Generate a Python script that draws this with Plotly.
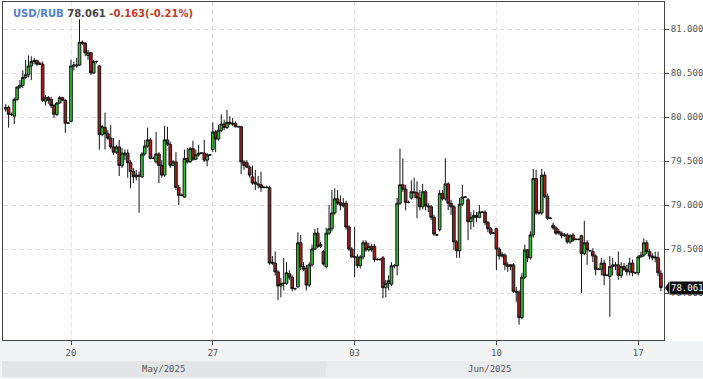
import plotly.graph_objects as go

# ---- data (USD/RUB, 10 candles per trading day) ----
opens = [80.09,80.11,80.03,80.01,80.20,80.34,80.36,80.45,80.48,80.58,80.63,80.64,80.61,80.60,80.18,80.22,80.20,80.13,80.03,80.16,
         80.22,80.19,79.93,79.95,80.58,80.58,80.59,80.85,80.84,80.70,80.73,80.50,80.63,80.58,79.80,79.88,79.81,79.76,79.66,79.60,
         79.66,79.45,79.59,79.59,79.48,79.38,79.32,79.34,79.32,79.58,79.67,79.74,79.53,79.49,79.58,79.45,79.34,79.74,79.69,79.45,
         79.49,79.20,79.11,79.09,79.53,79.49,79.64,79.52,79.57,79.59,79.59,79.51,79.57,79.63,79.83,79.75,79.85,79.92,79.88,79.94,
         79.93,79.93,79.89,79.89,79.49,79.48,79.43,79.32,79.26,79.24,79.23,79.20,79.20,79.20,78.35,78.34,78.24,78.08,78.11,78.11,
         78.22,78.18,78.05,78.07,78.57,78.30,78.28,78.09,78.32,78.50,78.68,78.53,78.47,78.30,78.68,78.73,78.91,79.07,79.03,79.02,
         79.02,78.75,78.50,78.41,78.41,78.31,78.41,78.57,78.49,78.53,78.53,78.38,78.38,78.40,78.06,78.11,78.10,78.31,78.31,79.02,
         79.23,79.18,79.03,79.08,79.15,79.14,79.08,78.98,79.15,78.99,78.98,78.86,78.66,78.72,79.13,79.07,79.24,79.02,78.98,78.58,
         78.48,79.01,79.09,79.06,78.81,78.86,78.88,78.86,78.92,78.92,78.80,78.73,78.68,78.73,78.50,78.42,78.43,78.32,78.30,78.32,
         78.02,78.01,77.72,78.18,78.49,78.40,78.66,79.30,78.91,78.91,79.34,79.10,78.85,78.77,78.74,78.70,78.68,78.65,78.66,78.58,
         78.66,78.61,78.61,78.65,78.45,78.57,78.48,78.47,78.42,78.27,78.27,78.34,78.20,78.19,78.30,78.32,78.32,78.20,78.30,78.27,
         78.24,78.34,78.23,78.23,78.41,78.43,78.57,78.47,78.42,78.41,78.40,78.224]
closes = [80.11,80.03,80.03,80.20,80.34,80.36,80.45,80.48,80.58,80.63,80.64,80.60,80.60,80.19,80.22,80.19,80.13,80.03,80.16,80.22,
          80.19,79.93,79.93,80.58,80.59,80.59,80.85,80.84,80.73,80.73,80.50,80.63,80.63,79.80,79.89,79.81,79.76,79.66,79.60,79.66,
          79.45,79.59,79.57,79.48,79.38,79.32,79.34,79.33,79.58,79.67,79.74,79.53,79.53,79.58,79.45,79.34,79.74,79.69,79.45,79.49,
          79.20,79.11,79.11,79.53,79.49,79.64,79.52,79.57,79.59,79.59,79.51,79.57,79.57,79.83,79.75,79.85,79.92,79.88,79.94,79.93,
          79.92,79.89,79.89,79.49,79.45,79.43,79.34,79.25,79.24,79.23,79.20,79.20,79.20,78.34,78.34,78.24,78.08,78.11,78.11,78.23,
          78.18,78.05,78.05,78.57,78.30,78.27,78.09,78.32,78.50,78.68,78.53,78.55,78.33,78.68,78.73,78.91,79.07,79.02,79.00,78.99,
          78.75,78.50,78.41,78.41,78.31,78.41,78.57,78.49,78.53,78.49,78.38,78.38,78.38,78.06,78.11,78.14,78.31,78.31,79.02,79.23,
          79.18,79.03,79.03,79.15,79.14,79.08,78.98,79.15,78.99,78.98,78.86,78.67,78.66,79.13,79.07,79.24,79.02,78.98,78.58,78.48,
          79.01,79.09,79.09,78.81,78.86,78.88,78.86,78.92,78.92,78.80,78.73,78.68,78.68,78.50,78.42,78.44,78.32,78.30,78.32,78.02,
          78.01,77.72,78.18,78.49,78.40,78.66,79.30,78.91,78.91,79.34,79.10,78.85,78.85,78.74,78.68,78.68,78.65,78.66,78.58,78.65,
          78.60,78.61,78.61,78.45,78.57,78.49,78.48,78.42,78.27,78.27,78.34,78.20,78.20,78.30,78.32,78.31,78.20,78.30,78.27,78.24,
          78.34,78.23,78.23,78.41,78.43,78.57,78.47,78.42,78.40,78.40,78.23,78.061]
highs = [80.15,80.13,80.05,80.22,80.35,80.42,80.53,80.65,80.70,80.69,80.67,80.65,80.63,80.63,80.25,80.24,80.23,80.15,80.17,80.24,
         80.23,80.20,79.94,80.65,80.63,80.67,81.11,80.87,80.85,80.76,80.74,80.65,80.64,80.59,79.91,80.05,79.85,79.91,79.76,79.68,
         79.74,79.65,79.63,79.63,79.51,79.42,79.40,79.38,79.60,79.74,79.88,79.76,79.55,79.83,79.60,79.51,79.90,79.89,79.72,79.51,
         79.60,79.23,79.13,79.63,79.65,79.66,79.73,79.63,79.68,79.60,79.74,79.59,79.58,79.94,79.85,79.91,80.03,79.97,80.08,80.01,
         79.99,79.95,79.90,79.90,79.51,79.51,79.45,79.45,79.40,79.33,79.38,79.22,79.22,79.22,78.42,78.47,78.26,78.17,78.40,78.35,
         78.26,78.20,78.06,78.69,78.66,78.35,78.32,78.35,78.55,78.73,78.74,78.58,78.49,78.74,79.00,79.17,79.19,79.17,79.11,79.08,
         79.05,78.77,78.52,78.75,78.44,78.43,78.60,78.60,78.57,78.56,78.56,78.40,78.40,78.42,78.15,78.20,78.35,78.33,79.08,79.64,
         79.53,79.23,79.05,79.28,79.31,79.27,79.17,79.24,79.17,79.02,79.00,78.89,78.67,79.17,79.17,79.53,79.26,79.06,79.00,78.60,
         79.08,79.23,79.10,79.08,78.92,78.94,78.92,79.00,78.93,78.94,78.82,78.75,78.69,78.74,78.52,78.47,78.45,78.35,78.33,78.34,
         78.07,78.03,78.23,78.55,78.50,78.70,79.41,79.40,78.94,79.41,79.38,79.13,78.86,78.80,78.76,78.73,78.70,78.68,78.68,78.67,
         78.68,78.62,78.62,78.66,78.82,78.60,78.49,78.51,78.44,78.28,78.40,78.38,78.22,78.42,78.40,78.35,78.47,78.35,78.34,78.32,
         78.40,78.38,78.24,78.43,78.47,78.62,78.60,78.50,78.45,78.47,78.47,78.26]
lows = [80.06,79.88,80.01,79.92,80.18,80.32,80.33,80.43,80.45,80.42,80.60,80.58,80.59,80.17,80.13,80.15,80.10,79.99,80.01,80.15,
        80.18,79.82,79.92,79.94,80.53,80.56,80.58,80.82,80.69,80.65,80.48,80.49,80.61,79.63,79.78,79.63,79.74,79.64,79.57,79.58,
        79.33,79.42,79.51,79.31,79.19,79.25,79.28,78.91,79.31,79.56,79.65,79.52,79.52,79.47,79.25,79.31,79.32,79.67,79.42,79.44,
        79.17,79.00,79.10,79.08,79.47,79.48,79.50,79.51,79.55,79.58,79.49,79.44,79.56,79.60,79.60,79.73,79.83,79.85,79.86,79.91,
        79.90,79.88,79.88,79.35,79.40,79.42,79.31,79.23,79.17,79.19,79.15,79.19,79.19,78.32,78.32,78.20,77.92,77.95,78.03,78.09,
        78.15,78.02,78.03,78.06,78.26,78.25,78.03,78.07,78.30,78.49,78.51,78.51,78.31,78.28,78.66,78.70,78.89,79.00,78.94,78.97,
        78.72,78.48,78.40,78.18,78.28,78.28,78.38,78.47,78.47,78.47,78.35,78.37,78.37,77.94,77.95,78.03,78.08,78.28,78.20,79.00,
        79.15,78.94,79.02,79.06,79.08,78.85,78.94,78.95,78.94,78.92,78.83,78.65,78.65,78.70,79.05,79.05,78.94,78.89,78.49,78.40,
        78.40,78.99,79.08,78.60,78.72,78.75,78.81,78.85,78.91,78.77,78.69,78.66,78.67,78.26,78.38,78.40,78.26,78.24,78.26,78.00,
        77.90,77.64,77.70,78.16,78.35,78.38,78.63,78.89,78.89,78.89,79.08,78.83,78.84,78.72,78.66,78.66,78.62,78.64,78.56,78.56,
        78.58,78.60,78.60,78.00,78.43,78.32,78.47,78.35,78.20,78.26,78.20,78.09,78.19,77.73,78.20,78.26,78.15,78.17,78.25,78.20,
        78.20,78.19,78.22,78.20,78.40,78.41,78.44,78.38,78.37,78.35,78.19,78.02]

candle_index = list(range(1, len(opens) + 1))
tick_index = [24, 74, 124, 174, 224]          # first candle of each labelled day
tick_text = ["20", "27", "03", "10", "17"]
month_labels = ["May/2025", "Jun/2025"]
month_start_index = [1, 114]                  # first candle of each month
y_ticks = [78.0, 78.5, 79.0, 79.5, 80.0, 80.5, 81.0]
symbol = "USD/RUB"
last_price = 78.061
change = -0.163
change_pct = -0.21

# guard highs/lows
highs = [max(h, o, c) for h, o, c in zip(highs, opens, closes)]
lows = [min(l, o, c) for l, o, c in zip(lows, opens, closes)]

W, H = 703, 379
ML, MR, MT, MB = 3, 39, 2, 39
PW, PH = W - ML - MR, H - MT - MB
X0, X1 = 0.02, 233.1
Y0, Y1 = 77.466, 81.307

def px2paper_x(px):
    return (px - ML) / PW

def px2paper_y(py):
    return (H - MB - py) / PH

def idx2paper_x(i):
    return (i - X0) / (X1 - X0)

fig = go.Figure(go.Candlestick(
    x=candle_index, open=opens, high=highs, low=lows, close=closes,
    increasing=dict(line=dict(color="#141414", width=1), fillcolor="#33c433"),
    decreasing=dict(line=dict(color="#141414", width=1), fillcolor="#a81c1c"),
    whiskerwidth=0, hoverinfo="skip", showlegend=False,
))

axis_font = dict(family="DejaVu Sans Mono", size=9, color="#555555")
fig.update_layout(
    width=W, height=H,
    margin=dict(l=ML, r=MR, t=MT, b=MB, pad=0),
    paper_bgcolor="white", plot_bgcolor="white",
    showlegend=False, boxgap=0.08, boxgroupgap=0.0,
    xaxis=dict(
        range=[X0, X1], tickmode="array", tickvals=tick_index, ticktext=tick_text,
        showgrid=True, gridcolor="#e2e2e2", griddash="5px,3px", gridwidth=1,
        showline=True, linecolor="#444444", linewidth=1, mirror=True,
        ticks="outside", ticklen=4, tickcolor="#444444", tickfont=axis_font,
        zeroline=False, rangeslider=dict(visible=False), fixedrange=True, automargin=False,
    ),
    yaxis=dict(
        range=[Y0, Y1], side="right", tickmode="array", tickvals=y_ticks,
        ticktext=[f"{v:.3f}" for v in y_ticks],
        showgrid=True, gridcolor="#e2e2e2", griddash="5px,3px", gridwidth=1,
        showline=True, linecolor="#444444", linewidth=1, mirror=True,
        ticks="outside", ticklen=4, tickcolor="#444444", tickfont=axis_font,
        zeroline=False, fixedrange=True, automargin=False,
    ),
)

shapes = []
# bottom grey strip
shapes.append(dict(type="rect", xref="paper", yref="paper",
                   x0=px2paper_x(0), x1=px2paper_x(W), y0=px2paper_y(H), y1=px2paper_y(341),
                   fillcolor="#f2f3f5", line=dict(width=0), layer="below"))
# month bands
band_colors = ["#e3e4e6", "#eaebed"]
bounds = [px2paper_x(2)] + [idx2paper_x(i) for i in month_start_index[1:]] + [px2paper_x(W)]
annotations = []
for k, lab in enumerate(month_labels):
    shapes.append(dict(type="rect", xref="paper", yref="paper",
                       x0=bounds[k], x1=bounds[k + 1], y0=px2paper_y(377), y1=px2paper_y(361),
                       fillcolor=band_colors[k], line=dict(width=0), layer="below"))
centers = [px2paper_x(163), px2paper_x(489)]
for k, lab in enumerate(month_labels):
    annotations.append(dict(xref="paper", yref="paper", x=centers[k], y=px2paper_y(369),
                            text=lab, showarrow=False, xanchor="center", yanchor="middle",
                            font=dict(family="DejaVu Sans Mono", size=9, color="#555555")))

# last price marker
lp_y = px2paper_y(MT + (Y1 - last_price) / (Y1 - Y0) * PH)
shapes.append(dict(type="path", xref="paper", yref="paper",
                   path=f"M {px2paper_x(665)} {lp_y} L {px2paper_x(669)} {lp_y + 6/PH} L {px2paper_x(669)} {lp_y - 6/PH} Z",
                   fillcolor="#111111", line=dict(width=0)))
annotations.append(dict(xref="paper", yref="y", x=px2paper_x(668.5), y=last_price,
                        text=f"{last_price:.3f}", showarrow=False, xanchor="left", yanchor="middle",
                        bgcolor="#111111", borderpad=1,
                        font=dict(family="DejaVu Sans Mono", size=9, color="white")))

# title
title = (f"<b><span style='color:#4f7fd6'>{symbol}</span> "
         f"<span style='color:#444444'>{last_price:.3f}</span> "
         f"<span style='color:#c0392b'>{change:.3f}({change_pct:.2f}%)</span></b>")
annotations.append(dict(xref="paper", yref="paper", x=px2paper_x(11), y=px2paper_y(13),
                        text=title, showarrow=False, xanchor="left", yanchor="middle",
                        font=dict(family="DejaVu Sans", size=10)))

fig.update_layout(shapes=shapes, annotations=annotations)
fig.write_html("out.html", config={"displayModeBar": False},
               post_script="document.body.style.margin='0';document.body.style.padding='0';window.dispatchEvent(new Event('resize'));")
